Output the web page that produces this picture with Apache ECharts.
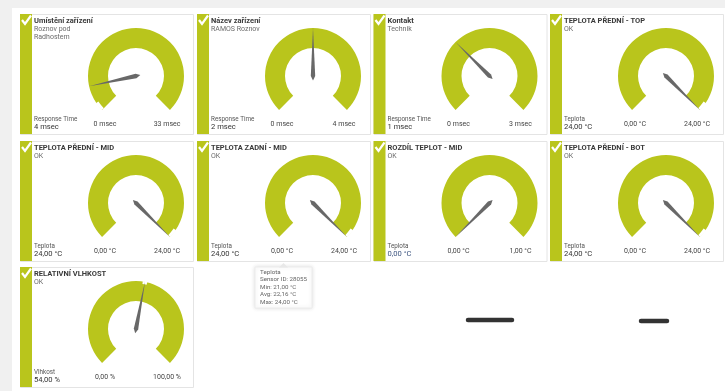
<!DOCTYPE html>
<html>
<head>
<meta charset="utf-8">
<script src="https://cdn.jsdelivr.net/npm/echarts@6/dist/echarts.min.js"></script>
<style>
html,body{margin:0;padding:0;background:#fff;}
#chart{width:725px;height:391px;}
</style>
</head>
<body>
<div id="chart"></div>
<script>
// ---- data ----
const titles = ['Umístění zařízení', 'Název zařízení', 'Kontakt', 'TEPLOTA PŘEDNÍ - TOP',
  'TEPLOTA PŘEDNÍ - MID', 'TEPLOTA ZADNÍ - MID', 'ROZDÍL TEPLOT - MID', 'TEPLOTA PŘEDNÍ - BOT',
  'RELATIVNÍ VLHKOST'];
const subtitles = [['Roznov pod', 'Radhostem'], ['RAMOS Roznov'], ['Technik'], ['OK'],
  ['OK'], ['OK'], ['OK'], ['OK'], ['OK']];
const metricNames = ['Response Time', 'Response Time', 'Response Time', 'Teplota',
  'Teplota', 'Teplota', 'Teplota', 'Teplota', 'Vlhkost'];
const values = [4, 2, 1, 24, 24, 24, 0, 24, 54];
const mins = [0, 0, 0, 0, 0, 0, 0, 0, 0];
const maxs = [33, 4, 3, 24, 24, 24, 1, 24, 100];
const units = ['msec', 'msec', 'msec', '°C', '°C', '°C', '°C', '°C', '%'];
const decimals = [0, 0, 0, 2, 2, 2, 2, 2, 2];
// small notch (marker) on the arc: fraction of the scale where the narrowed part starts/ends, or null
const notchFrom = [0, null, null, 0.96, 0.96, 0.96, null, 0.96, 0.53];
const notchTo = [0.04, null, null, 1, 1, 1, null, 1, 0.55];
const tooltipLines = ['Teplota', 'Sensor ID: 28055', 'Min: 21,00 °C', 'Avg: 22,16 °C', 'Max: 24,00 °C'];

// ---- layout ----
const GREEN = '#b9c51c';
const colLeft = [20, 197, 373.5, 550];
const rowTop = [14, 141, 267];
const TILE_W = 173, TILE_H = 120;
const FONT = 'Roboto, "Open Sans", sans-serif';
const START = 225, SPAN = 270;

function fmt(v, d, u) {
  return v.toFixed(d).replace('.', ',') + ' ' + u;
}
function txt(x, y, text, size, color, weight, align) {
  return {
    type: 'text', x: x, y: y, silent: true,
    style: {
      text: text, fill: color,
      font: (weight || 'normal') + ' ' + size + 'px ' + FONT,
      align: align || 'left', verticalAlign: 'middle',
      textAlign: align || 'left', textVerticalAlign: 'middle'
    }
  };
}
const hidden = {
  axisTick: { show: false }, splitLine: { show: false }, axisLabel: { show: false },
  anchor: { show: false }, title: { show: false }, detail: { show: false }
};

const graphics = [];
const series = [];
graphics.push({ type: 'rect', shape: { x: 0, y: 0, width: 725, height: 391 }, style: { fill: '#f0f0f0' }, silent: true });
graphics.push({ type: 'rect', shape: { x: 12, y: 8, width: 713, height: 383 }, style: { fill: '#ffffff' }, silent: true });

titles.forEach(function (title, i) {
  const L = colLeft[i % 4], T = rowTop[Math.floor(i / 4)];
  const cx = L + 116, cy = T + 62;
  graphics.push({ type: 'rect', shape: { x: L + 0.5, y: T + 0.5, width: TILE_W, height: TILE_H },
    style: { fill: '#fff', stroke: '#e4e4e4', lineWidth: 1 }, silent: true });
  graphics.push({ type: 'rect', shape: { x: L, y: T, width: 12, height: TILE_H }, style: { fill: GREEN }, silent: true });
  graphics.push({ type: 'polyline', shape: { points: [[L + 2, T + 6], [L + 5, T + 10], [L + 11, T + 1.5]] },
    style: { stroke: '#fff', lineWidth: 2.2, fill: null }, silent: true });
  graphics.push(txt(L + 14, T + 7, title, 7.5, '#3a3a3a', 'bold'));
  subtitles[i].forEach(function (s, k) {
    graphics.push(txt(L + 14, T + 15 + k * 8, s, 7, '#6b6b6b'));
  });
  graphics.push(txt(L + 14, T + 105, metricNames[i], 6.3, '#555'));
  graphics.push(txt(L + 14, T + 113, fmt(values[i], decimals[i], units[i]), 7.6,
    i === 6 ? '#3e5680' : '#333'));
  graphics.push(txt(cx - 31, T + 110.5, fmt(mins[i], decimals[i], units[i]), 7, '#444', 'normal', 'center'));
  graphics.push(txt(cx + 31, T + 110.5, fmt(maxs[i], decimals[i], units[i]), 7, '#444', 'normal', 'center'));

  series.push(Object.assign({
    type: 'gauge', center: [cx, cy], radius: 48, startAngle: START, endAngle: START - SPAN,
    min: mins[i], max: maxs[i], animation: false, silent: true, z: 2,
    axisLine: { lineStyle: { width: 20, color: [[1, GREEN]] } },
    pointer: { show: false },
    data: [{ value: values[i] }]
  }, hidden));
  if (notchFrom[i] !== null) {
    series.push(Object.assign({
      type: 'gauge', center: [cx, cy], radius: 48.5,
      startAngle: START - SPAN * notchFrom[i], endAngle: START - SPAN * notchTo[i],
      animation: false, silent: true, z: 3,
      axisLine: { lineStyle: { width: 3, color: [[1, '#ffffff']] } },
      pointer: { show: false },
      data: [{ value: 0 }]
    }, hidden));
  }
  series.push(Object.assign({
    type: 'gauge', center: [cx, cy], radius: 48, startAngle: START, endAngle: START - SPAN,
    min: mins[i], max: maxs[i], animation: false, silent: true, z: 4,
    axisLine: { show: false },
    pointer: { length: '100%', width: 2.2, itemStyle: { color: '#686868' } },
    data: [{ value: values[i] }]
  }, hidden));
});

// tooltip box
graphics.push({ type: 'rect', shape: { x: 255, y: 267, width: 57, height: 41 },
  style: { fill: '#fff', stroke: '#ececec', lineWidth: 1, shadowBlur: 4, shadowColor: 'rgba(0,0,0,0.12)' }, silent: true });
graphics.push({ type: 'polygon', shape: { points: [[279, 267.5], [283.5, 263], [288, 267.5]] },
  style: { fill: '#e8e8e8' }, silent: true });
tooltipLines.forEach(function (s, k) {
  graphics.push(txt(260, 272 + k * 7.6, s, 6.2, '#666'));
});
// loading dashes
graphics.push({ type: 'line', shape: { x1: 468, y1: 320, x2: 512, y2: 320 },
  style: { stroke: '#333', lineWidth: 4.5, lineCap: 'round' }, silent: true });
graphics.push({ type: 'line', shape: { x1: 641, y1: 321, x2: 667, y2: 321 },
  style: { stroke: '#333', lineWidth: 4.5, lineCap: 'round' }, silent: true });

const chart = echarts.init(document.getElementById('chart'), null, { renderer: 'canvas' });
chart.setOption({
  animation: false,
  graphic: { elements: graphics.map(function (g) { g.z = -10; return g; }) },
  series: series
});
</script>
</body>
</html>
